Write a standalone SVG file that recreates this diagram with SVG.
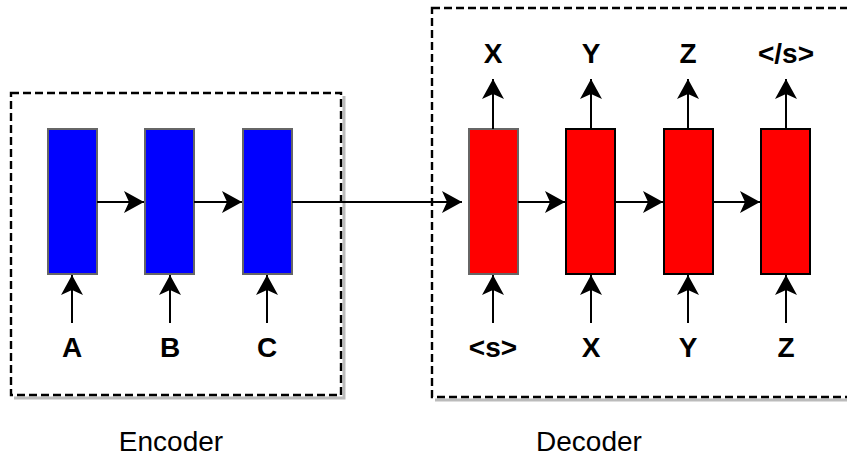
<svg xmlns="http://www.w3.org/2000/svg" width="847" height="456" viewBox="0 0 847 456">
<defs>
<marker id="arr" markerUnits="userSpaceOnUse" markerWidth="24" markerHeight="24" viewBox="0 0 24 24" refX="21" refY="12" orient="auto">
<path d="M1,1 L21,12 L1,23 L6,12 Z" fill="#000"/>
</marker>
</defs>
<style>
.box{fill:none;stroke:#000;stroke-width:2.4;stroke-dasharray:8 4}
.shadow{fill:none;stroke:#bbb;stroke-width:3}
.enc{fill:#0000ff;stroke:#666;stroke-width:2}
.dec0{fill:#ff0000;stroke:#666;stroke-width:2}
.dec{fill:#ff0000;stroke:#000;stroke-width:2}
.lbl{font-family:"Liberation Sans",Arial,sans-serif;font-weight:bold;font-size:28px;text-anchor:middle;fill:#000}
.cap{font-family:"Liberation Sans",Arial,sans-serif;font-size:28px;text-anchor:middle;fill:#000}
.ln{stroke:#000;stroke-width:2;fill:none;marker-end:url(#arr)}
</style>
<g id="encoder-frame">
<path class="shadow" d="M344,96 V398 H14"/>
<rect class="box" x="11" y="93" width="330" height="302"/>
</g>
<g id="decoder-frame">
<path class="shadow" d="M435,400 H850"/>
<rect class="box" x="432" y="8" width="430" height="389"/>
</g>
<g id="enc1"><rect class="enc" x="48" y="129" width="49" height="145"/></g>
<g id="enc2"><rect class="enc" x="145" y="129" width="49" height="145"/></g>
<g id="enc3"><rect class="enc" x="243" y="129" width="49" height="145"/></g>
<g id="dec1"><rect class="dec0" x="469" y="129" width="49" height="145"/></g>
<g id="dec2"><rect class="dec" x="566" y="129" width="49" height="145"/></g>
<g id="dec3"><rect class="dec" x="664" y="129" width="49" height="145"/></g>
<g id="dec4"><rect class="dec" x="761" y="129" width="49" height="145"/></g>
<g id="connectors">
<path class="ln" d="M97,202 H144"/>
<path class="ln" d="M194,202 H242"/>
<path class="ln" d="M292,202 H462"/>
<path class="ln" d="M518,202 H565"/>
<path class="ln" d="M615,202 H663"/>
<path class="ln" d="M713,202 H760"/>
<path class="ln" d="M72,323 V275"/>
<path class="ln" d="M170,323 V275"/>
<path class="ln" d="M267,323 V275"/>
<path class="ln" d="M493,323 V275"/>
<path class="ln" d="M591,323 V275"/>
<path class="ln" d="M688,323 V275"/>
<path class="ln" d="M786,323 V275"/>
<path class="ln" d="M493,129 V79"/>
<path class="ln" d="M591,129 V79"/>
<path class="ln" d="M688,129 V79"/>
<path class="ln" d="M786,129 V79"/>
</g>
<g id="labels">
<text class="lbl" x="72" y="357">A</text>
<text class="lbl" x="170" y="357">B</text>
<text class="lbl" x="267" y="357">C</text>
<text class="lbl" x="493" y="357">&lt;s&gt;</text>
<text class="lbl" x="591" y="357">X</text>
<text class="lbl" x="688" y="357">Y</text>
<text class="lbl" x="786" y="357">Z</text>
<text class="lbl" x="493" y="63">X</text>
<text class="lbl" x="591" y="63">Y</text>
<text class="lbl" x="688" y="63">Z</text>
<text class="lbl" x="786" y="63">&lt;/s&gt;</text>
<text class="cap" x="171" y="451">Encoder</text>
<text class="cap" x="589" y="451">Decoder</text>
</g>
</svg>
